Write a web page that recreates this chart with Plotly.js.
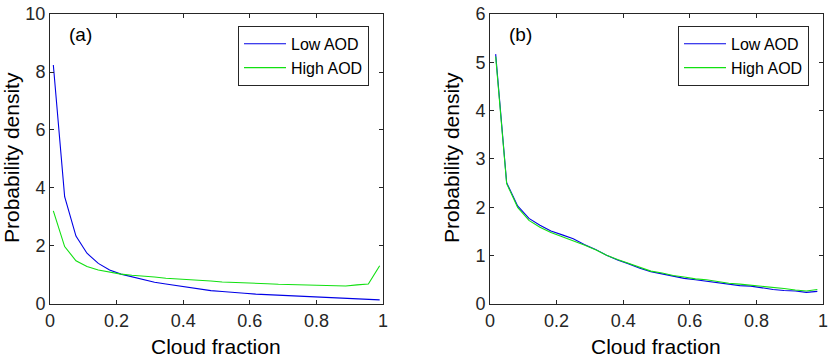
<!DOCTYPE html>
<html>
<head>
<meta charset="utf-8">
<script src="https://cdn.plot.ly/plotly-3.0.1.min.js"></script>
<style>
  html, body { margin: 0; padding: 0; background: #fff; }
  #plot { width: 832px; height: 360px; }
</style>
</head>
<body>
<div id="plot"></div>
<script>
// panel (a): cloud fraction bins and densities
var cfA = [0.010, 0.044, 0.078, 0.111, 0.145, 0.179, 0.213, 0.246, 0.280, 0.314,
           0.348, 0.381, 0.415, 0.449, 0.483, 0.517, 0.550, 0.584, 0.618, 0.652,
           0.686, 0.719, 0.753, 0.787, 0.821, 0.854, 0.888, 0.922, 0.956, 0.990];
var lowA  = [8.24, 3.70, 2.34, 1.75, 1.40, 1.17, 1.03, 0.94, 0.83, 0.75,
             0.69, 0.63, 0.57, 0.52, 0.46, 0.43, 0.39, 0.37, 0.34, 0.32,
             0.31, 0.29, 0.28, 0.25, 0.23, 0.22, 0.20, 0.18, 0.16, 0.14];
var highA = [3.21, 1.98, 1.49, 1.29, 1.17, 1.09, 1.03, 0.99, 0.97, 0.93,
             0.89, 0.87, 0.84, 0.82, 0.79, 0.76, 0.75, 0.74, 0.72, 0.70,
             0.68, 0.67, 0.64, 0.64, 0.63, 0.63, 0.62, 0.66, 0.69, 1.32];

// panel (b)
var cfB = [0.017, 0.050, 0.083, 0.117, 0.150, 0.183, 0.217, 0.250, 0.283, 0.317,
           0.350, 0.383, 0.417, 0.450, 0.483, 0.517, 0.550, 0.583, 0.617, 0.650,
           0.683, 0.717, 0.750, 0.783, 0.817, 0.850, 0.883, 0.917, 0.950, 0.983];
var lowB  = [5.17, 2.51, 2.03, 1.77, 1.63, 1.51, 1.43, 1.35, 1.23, 1.13,
             1.01, 0.91, 0.83, 0.74, 0.67, 0.62, 0.57, 0.53, 0.50, 0.47,
             0.43, 0.40, 0.38, 0.37, 0.33, 0.30, 0.28, 0.27, 0.24, 0.26];
var highB = [5.12, 2.49, 2.00, 1.73, 1.59, 1.48, 1.39, 1.31, 1.22, 1.12,
             1.01, 0.92, 0.84, 0.76, 0.68, 0.64, 0.59, 0.56, 0.52, 0.50,
             0.46, 0.43, 0.41, 0.39, 0.36, 0.34, 0.32, 0.29, 0.27, 0.30];

var xTicks = [0, 0.2, 0.4, 0.6, 0.8, 1];
var xTickText = ["0", "0.2", "0.4", "0.6", "0.8", "1"];
var yTicksA = [0, 2, 4, 6, 8, 10];
var yTicksB = [0, 1, 2, 3, 4, 5, 6];

var blue = "#0000e6", green = "#11e011", ink = "#262626";
var font = "Arial, 'Liberation Sans', sans-serif";

var data = [
  {x: cfA, y: lowA, name: "Low AOD", type: "scatter", mode: "lines",
   line: {color: blue, width: 1.1}, xaxis: "x", yaxis: "y", legend: "legend"},
  {x: cfA, y: highA, name: "High AOD", type: "scatter", mode: "lines",
   line: {color: green, width: 1.1}, xaxis: "x", yaxis: "y", legend: "legend"},
  {x: cfB, y: lowB, name: "Low AOD", type: "scatter", mode: "lines",
   line: {color: blue, width: 1.1}, xaxis: "x2", yaxis: "y2", legend: "legend2"},
  {x: cfB, y: highB, name: "High AOD", type: "scatter", mode: "lines",
   line: {color: green, width: 1.1}, xaxis: "x2", yaxis: "y2", legend: "legend2"}
];

function xAx(dom, anchor) {
  return {domain: dom, anchor: anchor, range: [0, 1], tickvals: xTicks, ticktext: xTickText,
          ticks: "inside", ticklen: 4, tickcolor: ink, showline: true, linecolor: ink,
          linewidth: 1, mirror: "ticks", showgrid: false, zeroline: false,
          tickfont: {size: 18, color: ink}};
}
function yAx(range, vals, anchor) {
  return {domain: [0.1556, 0.9611], anchor: anchor, range: range, tickvals: vals,
          ticks: "inside", ticklen: 4, tickcolor: ink, showline: true, linecolor: ink,
          linewidth: 1, mirror: "ticks", showgrid: false, zeroline: false,
          tickfont: {size: 18, color: ink}};
}

function legendAt(x) {
  return {x: x, y: 0.928, xanchor: "left", yanchor: "top", bgcolor: "#fff",
          bordercolor: ink, borderwidth: 1, font: {size: 16, color: "#000"},
          itemwidth: 42, tracegroupgap: 0};
}

var ann = [];
function label(txt, x, y, size, angle, yanchor) {
  ann.push({text: txt, xref: "paper", yref: "paper", x: x, y: y, showarrow: false,
            font: {size: size, color: "#000"}, textangle: angle || 0,
            xanchor: "center", yanchor: yanchor || "middle"});
}
label("(a)", 80 / 832, 1 - 35 / 360, 19);
label("(b)", 520 / 832, 1 - 35 / 360, 19);
label("Cloud fraction", 216 / 832, 0, 21, 0, "bottom");
label("Cloud fraction", 656 / 832, 0, 21, 0, "bottom");
label("Probability density", 11 / 832, 1 - 158 / 360, 21, -90);
label("Probability density", 451 / 832, 1 - 158 / 360, 21, -90);

var layout = {
  width: 832, height: 360,
  margin: {l: 0, r: 0, t: 0, b: 0},
  paper_bgcolor: "#fff", plot_bgcolor: "#fff",
  font: {family: font, color: ink},
  showlegend: true,
  xaxis: xAx([50 / 832, 383 / 832], "y"),
  yaxis: yAx([0, 10], yTicksA, "x"),
  xaxis2: xAx([490 / 832, 823 / 832], "y2"),
  yaxis2: yAx([0, 6], yTicksB, "x2"),
  legend: legendAt(238 / 832),
  legend2: legendAt(678 / 832),
  annotations: ann
};

Plotly.newPlot("plot", data, layout, {staticPlot: true});
</script>
</body>
</html>
